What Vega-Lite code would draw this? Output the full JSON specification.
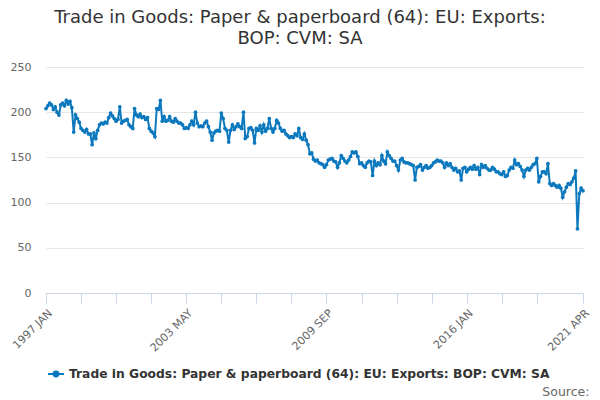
{
"$schema": "https://vega.github.io/schema/vega-lite/v6.json",
"width": 537, "height": 226,
"autosize": {"type": "none"},
"padding": {"left": 46, "top": 67, "right": 17, "bottom": 107},
"background": "white",
"config": {"font": "DejaVu Sans", "view": {"stroke": null}},
"title": {"text": ["Trade in Goods: Paper & paperboard (64): EU: Exports:", "BOP: CVM: SA"], "fontSize": 18, "fontWeight": "normal", "color": "#333333", "anchor": "middle", "dx": -14.5, "offset": 13, "lineHeight": 21},
"data": {"values": [
{"m":"1997 JAN","v":204},{"m":"1997 FEB","v":207},{"m":"1997 MAR","v":210},{"m":"1997 APR","v":208},{"m":"1997 MAY","v":203},{"m":"1997 JUN","v":206},{"m":"1997 JUL","v":200},{"m":"1997 AUG","v":197},{"m":"1997 SEP","v":208},{"m":"1997 OCT","v":210},{"m":"1997 NOV","v":207},{"m":"1997 DEC","v":213},
{"m":"1998 JAN","v":209},{"m":"1998 FEB","v":212},{"m":"1998 MAR","v":205},{"m":"1998 APR","v":178},{"m":"1998 MAY","v":197},{"m":"1998 JUN","v":193},{"m":"1998 JUL","v":189},{"m":"1998 AUG","v":182},{"m":"1998 SEP","v":180},{"m":"1998 OCT","v":178},{"m":"1998 NOV","v":181},{"m":"1998 DEC","v":176},
{"m":"1999 JAN","v":176},{"m":"1999 FEB","v":164},{"m":"1999 MAR","v":177},{"m":"1999 APR","v":171},{"m":"1999 MAY","v":180},{"m":"1999 JUN","v":186},{"m":"1999 JUL","v":188},{"m":"1999 AUG","v":187},{"m":"1999 SEP","v":189},{"m":"1999 OCT","v":188},{"m":"1999 NOV","v":194},{"m":"1999 DEC","v":199},
{"m":"2000 JAN","v":196},{"m":"2000 FEB","v":193},{"m":"2000 MAR","v":190},{"m":"2000 APR","v":192},{"m":"2000 MAY","v":206},{"m":"2000 JUN","v":188},{"m":"2000 JUL","v":190},{"m":"2000 AUG","v":191},{"m":"2000 SEP","v":192},{"m":"2000 OCT","v":186},{"m":"2000 NOV","v":184},{"m":"2000 DEC","v":182},
{"m":"2001 JAN","v":204},{"m":"2001 FEB","v":197},{"m":"2001 MAR","v":195},{"m":"2001 APR","v":198},{"m":"2001 MAY","v":194},{"m":"2001 JUN","v":195},{"m":"2001 JUL","v":192},{"m":"2001 AUG","v":194},{"m":"2001 SEP","v":182},{"m":"2001 OCT","v":179},{"m":"2001 NOV","v":177},{"m":"2001 DEC","v":173},
{"m":"2002 JAN","v":204},{"m":"2002 FEB","v":203},{"m":"2002 MAR","v":213},{"m":"2002 APR","v":190},{"m":"2002 MAY","v":195},{"m":"2002 JUN","v":190},{"m":"2002 JUL","v":191},{"m":"2002 AUG","v":195},{"m":"2002 SEP","v":190},{"m":"2002 OCT","v":189},{"m":"2002 NOV","v":193},{"m":"2002 DEC","v":190},
{"m":"2003 JAN","v":188},{"m":"2003 FEB","v":188},{"m":"2003 MAR","v":186},{"m":"2003 APR","v":182},{"m":"2003 MAY","v":183},{"m":"2003 JUN","v":182},{"m":"2003 JUL","v":186},{"m":"2003 AUG","v":190},{"m":"2003 SEP","v":186},{"m":"2003 OCT","v":200},{"m":"2003 NOV","v":188},{"m":"2003 DEC","v":184},
{"m":"2004 JAN","v":185},{"m":"2004 FEB","v":184},{"m":"2004 MAR","v":188},{"m":"2004 APR","v":190},{"m":"2004 MAY","v":184},{"m":"2004 JUN","v":178},{"m":"2004 JUL","v":169},{"m":"2004 AUG","v":177},{"m":"2004 SEP","v":179},{"m":"2004 OCT","v":180},{"m":"2004 NOV","v":179},{"m":"2004 DEC","v":199},
{"m":"2005 JAN","v":193},{"m":"2005 FEB","v":182},{"m":"2005 MAR","v":180},{"m":"2005 APR","v":167},{"m":"2005 MAY","v":180},{"m":"2005 JUN","v":186},{"m":"2005 JUL","v":181},{"m":"2005 AUG","v":184},{"m":"2005 SEP","v":187},{"m":"2005 OCT","v":184},{"m":"2005 NOV","v":182},{"m":"2005 DEC","v":200},
{"m":"2006 JAN","v":171},{"m":"2006 FEB","v":173},{"m":"2006 MAR","v":182},{"m":"2006 APR","v":183},{"m":"2006 MAY","v":180},{"m":"2006 JUN","v":166},{"m":"2006 JUL","v":182},{"m":"2006 AUG","v":180},{"m":"2006 SEP","v":185},{"m":"2006 OCT","v":178},{"m":"2006 NOV","v":186},{"m":"2006 DEC","v":179},
{"m":"2007 JAN","v":182},{"m":"2007 FEB","v":193},{"m":"2007 MAR","v":182},{"m":"2007 APR","v":178},{"m":"2007 MAY","v":182},{"m":"2007 JUN","v":191},{"m":"2007 JUL","v":188},{"m":"2007 AUG","v":182},{"m":"2007 SEP","v":179},{"m":"2007 OCT","v":180},{"m":"2007 NOV","v":176},{"m":"2007 DEC","v":174},
{"m":"2008 JAN","v":172},{"m":"2008 FEB","v":173},{"m":"2008 MAR","v":172},{"m":"2008 APR","v":176},{"m":"2008 MAY","v":174},{"m":"2008 JUN","v":182},{"m":"2008 JUL","v":172},{"m":"2008 AUG","v":170},{"m":"2008 SEP","v":176},{"m":"2008 OCT","v":169},{"m":"2008 NOV","v":164},{"m":"2008 DEC","v":154},
{"m":"2009 JAN","v":155},{"m":"2009 FEB","v":148},{"m":"2009 MAR","v":146},{"m":"2009 APR","v":147},{"m":"2009 MAY","v":144},{"m":"2009 JUN","v":143},{"m":"2009 JUL","v":142},{"m":"2009 AUG","v":139},{"m":"2009 SEP","v":142},{"m":"2009 OCT","v":147},{"m":"2009 NOV","v":148},{"m":"2009 DEC","v":149},
{"m":"2010 JAN","v":146},{"m":"2010 FEB","v":145},{"m":"2010 MAR","v":139},{"m":"2010 APR","v":144},{"m":"2010 MAY","v":152},{"m":"2010 JUN","v":149},{"m":"2010 JUL","v":146},{"m":"2010 AUG","v":144},{"m":"2010 SEP","v":147},{"m":"2010 OCT","v":151},{"m":"2010 NOV","v":156},{"m":"2010 DEC","v":155},
{"m":"2011 JAN","v":156},{"m":"2011 FEB","v":151},{"m":"2011 MAR","v":143},{"m":"2011 APR","v":144},{"m":"2011 MAY","v":141},{"m":"2011 JUN","v":139},{"m":"2011 JUL","v":144},{"m":"2011 AUG","v":146},{"m":"2011 SEP","v":145},{"m":"2011 OCT","v":130},{"m":"2011 NOV","v":146},{"m":"2011 DEC","v":141},
{"m":"2012 JAN","v":144},{"m":"2012 FEB","v":142},{"m":"2012 MAR","v":152},{"m":"2012 APR","v":146},{"m":"2012 MAY","v":143},{"m":"2012 JUN","v":156},{"m":"2012 JUL","v":152},{"m":"2012 AUG","v":149},{"m":"2012 SEP","v":146},{"m":"2012 OCT","v":146},{"m":"2012 NOV","v":141},{"m":"2012 DEC","v":136},
{"m":"2013 JAN","v":147},{"m":"2013 FEB","v":149},{"m":"2013 MAR","v":145},{"m":"2013 APR","v":144},{"m":"2013 MAY","v":144},{"m":"2013 JUN","v":143},{"m":"2013 JUL","v":142},{"m":"2013 AUG","v":141},{"m":"2013 SEP","v":125},{"m":"2013 OCT","v":139},{"m":"2013 NOV","v":140},{"m":"2013 DEC","v":142},
{"m":"2014 JAN","v":136},{"m":"2014 FEB","v":139},{"m":"2014 MAR","v":141},{"m":"2014 APR","v":138},{"m":"2014 MAY","v":139},{"m":"2014 JUN","v":141},{"m":"2014 JUL","v":144},{"m":"2014 AUG","v":145},{"m":"2014 SEP","v":147},{"m":"2014 OCT","v":146},{"m":"2014 NOV","v":146},{"m":"2014 DEC","v":144},
{"m":"2015 JAN","v":139},{"m":"2015 FEB","v":144},{"m":"2015 MAR","v":141},{"m":"2015 APR","v":143},{"m":"2015 MAY","v":139},{"m":"2015 JUN","v":136},{"m":"2015 JUL","v":138},{"m":"2015 AUG","v":134},{"m":"2015 SEP","v":135},{"m":"2015 OCT","v":125},{"m":"2015 NOV","v":138},{"m":"2015 DEC","v":139},
{"m":"2016 JAN","v":134},{"m":"2016 FEB","v":137},{"m":"2016 MAR","v":139},{"m":"2016 APR","v":137},{"m":"2016 MAY","v":141},{"m":"2016 JUN","v":137},{"m":"2016 JUL","v":139},{"m":"2016 AUG","v":131},{"m":"2016 SEP","v":142},{"m":"2016 OCT","v":139},{"m":"2016 NOV","v":141},{"m":"2016 DEC","v":138},
{"m":"2017 JAN","v":136},{"m":"2017 FEB","v":136},{"m":"2017 MAR","v":139},{"m":"2017 APR","v":137},{"m":"2017 MAY","v":134},{"m":"2017 JUN","v":134},{"m":"2017 JUL","v":132},{"m":"2017 AUG","v":131},{"m":"2017 SEP","v":134},{"m":"2017 OCT","v":129},{"m":"2017 NOV","v":130},{"m":"2017 DEC","v":136},
{"m":"2018 JAN","v":139},{"m":"2018 FEB","v":138},{"m":"2018 MAR","v":147},{"m":"2018 APR","v":142},{"m":"2018 MAY","v":143},{"m":"2018 JUN","v":140},{"m":"2018 JUL","v":136},{"m":"2018 AUG","v":129},{"m":"2018 SEP","v":136},{"m":"2018 OCT","v":138},{"m":"2018 NOV","v":136},{"m":"2018 DEC","v":139},
{"m":"2019 JAN","v":142},{"m":"2019 FEB","v":143},{"m":"2019 MAR","v":149},{"m":"2019 APR","v":123},{"m":"2019 MAY","v":129},{"m":"2019 JUN","v":134},{"m":"2019 JUL","v":134},{"m":"2019 AUG","v":132},{"m":"2019 SEP","v":143},{"m":"2019 OCT","v":121},{"m":"2019 NOV","v":119},{"m":"2019 DEC","v":121},
{"m":"2020 JAN","v":119},{"m":"2020 FEB","v":117},{"m":"2020 MAR","v":119},{"m":"2020 APR","v":116},{"m":"2020 MAY","v":106},{"m":"2020 JUN","v":112},{"m":"2020 JUL","v":117},{"m":"2020 AUG","v":121},{"m":"2020 SEP","v":120},{"m":"2020 OCT","v":123},{"m":"2020 NOV","v":127},{"m":"2020 DEC","v":135},
{"m":"2021 JAN","v":71},{"m":"2021 FEB","v":110},{"m":"2021 MAR","v":116},{"m":"2021 APR","v":113}
]},
"mark": {"type": "line", "strokeWidth": 2, "point": {"filled": true, "size": 14}},
"encoding": {
  "x": {"field": "m", "type": "ordinal", "sort": null, "scale": {"type": "point", "padding": 0},
    "axis": {"values": ["1997 JAN","1998 AUG","2000 MAR","2001 OCT","2003 MAY","2004 DEC","2006 JUL","2008 FEB","2009 SEP","2011 APR","2012 NOV","2014 JUN","2016 JAN","2017 AUG","2019 MAR","2021 APR"],
      "labelExpr": "indexof(['1997 JAN','2003 MAY','2009 SEP','2016 JAN','2021 APR'], datum.value) >= 0 ? datum.value : ''",
      "labelAngle": -45, "labelFontSize": 11, "labelColor": "#666666", "labelOverlap": false, "labelPadding": 4,
      "domainColor": "#ccd6eb", "tickColor": "#ccd6eb", "tickSize": 10, "grid": false,
      "title": "Source:", "titleAnchor": "end", "titleAlign": "right", "titleBaseline": "alphabetic", "titleX": 543, "titleY": 102,
      "titleFontSize": 12.5, "titleFontWeight": "normal", "titleColor": "#666666"}},
  "y": {"field": "v", "type": "quantitative", "scale": {"domain": [0, 250]},
    "axis": {"values": [0, 50, 100, 150, 200, 250], "ticks": false, "domain": false, "gridColor": "#e6e6e6", "labelFontSize": 11, "labelColor": "#666666", "labelPadding": 15, "title": null}},
  "color": {"datum": "Trade in Goods: Paper & paperboard (64): EU: Exports: BOP: CVM: SA", "scale": {"range": ["#0c78bd"]},
    "legend": {"orient": "none", "legendX": 1, "legendY": 298, "title": null, "labelFontSize": 12.3, "labelFontWeight": "bold", "labelColor": "#333333", "labelLimit": 700,
      "symbolType": "M-1,0L1,0M-0.3,0A0.3,0.3,0,1,0,0.3,0A0.3,0.3,0,1,0,-0.3,0Z", "symbolSize": 256, "symbolStrokeWidth": 2, "symbolFillColor": "#0c78bd", "symbolStrokeColor": "#0c78bd"}}
}
}
